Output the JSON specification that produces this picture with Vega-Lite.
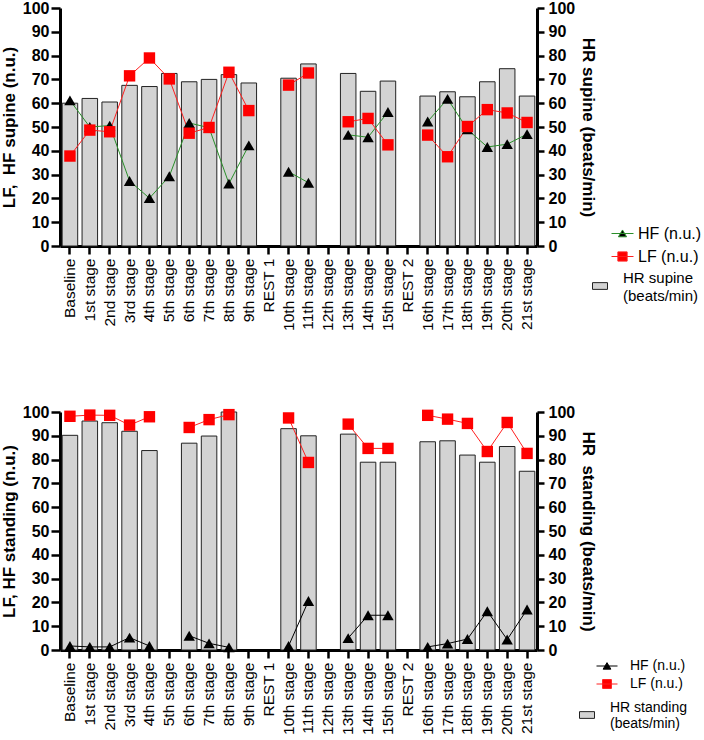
{
  "$schema": "https://vega.github.io/schema/vega-lite/v6.json",
  "padding": {"left": 0, "top": 0, "right": 0, "bottom": 0},
  "config": {
    "font": "Liberation Sans",
    "view": {"stroke": null},
    "axis": {
      "grid": false,
      "domainColor": "black",
      "domainWidth": 3,
      "tickColor": "black",
      "tickWidth": 2.5,
      "labelColor": "black",
      "titleColor": "black",
      "zindex": 1
    },
    "legend": {"labelColor": "black", "labelFont": "Liberation Sans"}
  },
  "datasets": {
    "hrv": [
      {"pos": "supine", "stage": "Baseline", "block": 1, "HR": 60, "HF": 61.2, "LF": 37.8},
      {"pos": "supine", "stage": "1st stage", "block": 1, "HR": 62, "HF": 50, "LF": 48.7},
      {"pos": "supine", "stage": "2nd stage", "block": 1, "HR": 60.5, "HF": 50.6, "LF": 48},
      {"pos": "supine", "stage": "3rd stage", "block": 1, "HR": 67.5, "HF": 27.3, "LF": 71.5},
      {"pos": "supine", "stage": "4th stage", "block": 1, "HR": 67, "HF": 20.1, "LF": 79},
      {"pos": "supine", "stage": "5th stage", "block": 1, "HR": 72.5, "HF": 29.3, "LF": 70.2},
      {"pos": "supine", "stage": "6th stage", "block": 1, "HR": 69, "HF": 51.7, "LF": 47.4},
      {"pos": "supine", "stage": "7th stage", "block": 1, "HR": 70, "HF": 49.7, "LF": 49.8},
      {"pos": "supine", "stage": "8th stage", "block": 1, "HR": 72, "HF": 26.2, "LF": 73},
      {"pos": "supine", "stage": "9th stage", "block": 1, "HR": 68.5, "HF": 42.3, "LF": 56.9},
      {"pos": "supine", "stage": "10th stage", "block": 2, "HR": 70.5, "HF": 31.2, "LF": 67.6},
      {"pos": "supine", "stage": "11th stage", "block": 2, "HR": 76.5, "HF": 26.6, "LF": 72.7},
      {"pos": "supine", "stage": "13th stage", "block": 3, "HR": 72.5, "HF": 46.7, "LF": 52.2},
      {"pos": "supine", "stage": "14th stage", "block": 3, "HR": 65, "HF": 45.7, "LF": 53.6},
      {"pos": "supine", "stage": "15th stage", "block": 3, "HR": 69.3, "HF": 56.3, "LF": 42.5},
      {"pos": "supine", "stage": "16th stage", "block": 4, "HR": 63, "HF": 52.3, "LF": 46.6},
      {"pos": "supine", "stage": "17th stage", "block": 4, "HR": 64.8, "HF": 61.8, "LF": 37.5},
      {"pos": "supine", "stage": "18th stage", "block": 4, "HR": 62.7, "HF": 49, "LF": 50.2},
      {"pos": "supine", "stage": "19th stage", "block": 4, "HR": 69, "HF": 41.6, "LF": 57.3},
      {"pos": "supine", "stage": "20th stage", "block": 4, "HR": 74.5, "HF": 42.8, "LF": 55.9},
      {"pos": "supine", "stage": "21st stage", "block": 4, "HR": 63, "HF": 47, "LF": 51.9},
      {"pos": "standing", "stage": "Baseline", "block": 1, "HR": 90.2, "HF": 1.7, "LF": 98.2},
      {"pos": "standing", "stage": "1st stage", "block": 1, "HR": 96.2, "HF": 1.3, "LF": 98.7},
      {"pos": "standing", "stage": "2nd stage", "block": 1, "HR": 95.5, "HF": 1.3, "LF": 98.6},
      {"pos": "standing", "stage": "3rd stage", "block": 1, "HR": 91.9, "HF": 5.2, "LF": 94.5},
      {"pos": "standing", "stage": "4th stage", "block": 1, "HR": 83.8, "HF": 1.7, "LF": 98},
      {"pos": "standing", "stage": "6th stage", "block": 2, "HR": 86.9, "HF": 6, "LF": 93.5},
      {"pos": "standing", "stage": "7th stage", "block": 2, "HR": 89.9, "HF": 2.8, "LF": 96.8},
      {"pos": "standing", "stage": "8th stage", "block": 2, "HR": 100, "HF": 1.1, "LF": 98.9},
      {"pos": "standing", "stage": "10th stage", "block": 3, "HR": 93, "HF": 1.7, "LF": 97.5},
      {"pos": "standing", "stage": "11th stage", "block": 3, "HR": 90, "HF": 20.6, "LF": 78.8},
      {"pos": "standing", "stage": "13th stage", "block": 4, "HR": 90.7, "HF": 5, "LF": 94.9},
      {"pos": "standing", "stage": "14th stage", "block": 4, "HR": 78.9, "HF": 14.6, "LF": 84.7},
      {"pos": "standing", "stage": "15th stage", "block": 4, "HR": 78.9, "HF": 14.6, "LF": 84.7},
      {"pos": "standing", "stage": "16th stage", "block": 5, "HR": 87.5, "HF": 1.3, "LF": 98.6},
      {"pos": "standing", "stage": "17th stage", "block": 5, "HR": 87.9, "HF": 2.7, "LF": 97},
      {"pos": "standing", "stage": "18th stage", "block": 5, "HR": 81.9, "HF": 4.6, "LF": 95.2},
      {"pos": "standing", "stage": "19th stage", "block": 5, "HR": 78.9, "HF": 16.3, "LF": 83.4},
      {"pos": "standing", "stage": "20th stage", "block": 5, "HR": 85.5, "HF": 4.4, "LF": 95.6},
      {"pos": "standing", "stage": "21st stage", "block": 5, "HR": 75.1, "HF": 17, "LF": 82.6}
    ]
  },
  "resolve": {
    "scale": {"x": "independent", "y": "independent", "color": "independent", "fill": "independent", "stroke": "independent", "shape": "independent"},
    "legend": {"color": "independent", "fill": "independent", "stroke": "independent", "shape": "independent"}
  },
  "spacing": 73,
  "vconcat": [
    {
      "width": 477,
      "height": 238,
      "data": {"name": "hrv"},
      "transform": [{"filter": "datum.pos === 'supine'"}],
      "encoding": {
        "x": {
          "field": "stage", "type": "nominal",
          "sort": ["Baseline","1st stage","2nd stage","3rd stage","4th stage","5th stage","6th stage","7th stage","8th stage","9th stage","REST 1","10th stage","11th stage","12th stage","13th stage","14th stage","15th stage","REST 2","16th stage","17th stage","18th stage","19th stage","20th stage","21st stage"],
          "scale": {"domain": ["Baseline","1st stage","2nd stage","3rd stage","4th stage","5th stage","6th stage","7th stage","8th stage","9th stage","REST 1","10th stage","11th stage","12th stage","13th stage","14th stage","15th stage","REST 2","16th stage","17th stage","18th stage","19th stage","20th stage","21st stage"], "paddingInner": 0.22, "paddingOuter": 0.11},
          "axis": {"title": null, "labelAngle": -90, "labelFontSize": 15.5, "labelPadding": 4, "tickSize": 8}
        }
      },
      "layer": [
        {
          "mark": {"type": "bar", "stroke": "#222222", "strokeWidth": 1},
          "encoding": {
            "y": {
              "field": "HR", "type": "quantitative",
              "scale": {"domain": [0, 100]},
              "axis": {"orient": "right", "title": "HR supine (beats/min)", "values": [0,10,20,30,40,50,60,70,80,90,100], "labelFontSize": 16, "labelFontWeight": "bold", "tickSize": 7, "labelPadding": 4, "titleFontSize": 17, "titleFontWeight": "bold", "titlePadding": 4}
            },
            "color": {
              "datum": "HR supine (beats/min)",
              "scale": {"range": ["#d3d3d3"]},
              "legend": {
                "orient": "none", "legendX": 532, "legendY": 270, "title": null,
                "symbolType": "M-1,-0.45H1V0.45H-1Z", "symbolSize": 225, "symbolStrokeColor": "#222222", "symbolStrokeWidth": 1,
                "labelFontSize": 15, "labelOffset": 15,
                "labelExpr": "['HR supine', '(beats/min)']",
                "encode": {"labels": {"update": {"lineHeight": {"value": 18}, "dy": {"value": -8}}}}
              }
            }
          }
        },
        {
          "transform": [{"fold": ["HF", "LF"], "as": ["measure", "value"]}],
          "mark": {"type": "line", "strokeWidth": 1},
          "encoding": {
            "y": {
              "field": "value", "type": "quantitative",
              "scale": {"domain": [0, 100]},
              "axis": {"orient": "left", "title": "LF,\u00a0 HF supine (n.u.)", "values": [0,10,20,30,40,50,60,70,80,90,100], "labelFontSize": 16, "labelFontWeight": "bold", "tickSize": 9, "labelPadding": 2, "titleFontSize": 17, "titleFontWeight": "bold", "titlePadding": 4}
            },
            "stroke": {"field": "measure", "scale": {"domain": ["LF", "HF"], "range": ["#ff2020", "#2a8f2a"]}, "legend": null},
            "detail": {"field": "block"}
          }
        },
        {
          "transform": [{"fold": ["HF", "LF"], "as": ["measure", "value"]}],
          "mark": {"type": "point", "filled": true, "size": 130, "opacity": 1},
          "encoding": {
            "y": {"field": "value", "type": "quantitative", "scale": {"domain": [0, 100]}, "axis": null},
            "fill": {"field": "measure", "scale": {"domain": ["LF", "HF"], "range": ["#ff0000", "black"]}, "legend": null},
            "shape": {"field": "measure", "scale": {"domain": ["LF", "HF"], "range": ["square", "triangle-up"]}, "legend": null}
          }
        },
        {
          "transform": [{"fold": ["HF", "LF"], "as": ["measure", "value"]}],
          "mark": {"type": "point", "filled": true, "opacity": 0, "strokeWidth": 1},
          "encoding": {
            "y": {"field": "value", "type": "quantitative", "scale": {"domain": [0, 100]}, "axis": null},
            "fill": {"field": "measure", "scale": {"domain": ["HF", "LF"], "range": ["black", "#ff0000"]}, "legend": null},
            "stroke": {"field": "measure", "scale": {"domain": ["HF", "LF"], "range": ["#2a8f2a", "#ff2020"]}, "legend": null},
            "shape": {
              "field": "measure",
              "scale": {"domain": ["HF", "LF"], "range": ["M-1,0H1M0,-0.32L0.37,0.3L-0.37,0.3Z", "M-1,0H1M-0.42,-0.42H0.42V0.42H-0.42Z"]},
              "legend": {
                "orient": "none", "legendX": 551, "legendY": 214, "title": null,
                "symbolSize": 484, "symbolOpacity": 1, "symbolStrokeWidth": 1, "rowPadding": 3, "labelFontSize": 16, "labelOffset": 4,
                "labelExpr": "datum.label + ' (n.u.)'"
              }
            }
          }
        }
      ],
      "resolve": {
        "scale": {"y": "independent", "fill": "independent", "stroke": "independent", "shape": "independent"},
        "legend": {"fill": "independent", "stroke": "independent", "shape": "independent"}
      }
    },
    {
      "width": 477,
      "height": 238,
      "data": {"name": "hrv"},
      "transform": [{"filter": "datum.pos === 'standing'"}],
      "encoding": {
        "x": {
          "field": "stage", "type": "nominal",
          "sort": ["Baseline","1st stage","2nd stage","3rd stage","4th stage","5th stage","6th stage","7th stage","8th stage","9th stage","REST 1","10th stage","11th stage","12th stage","13th stage","14th stage","15th stage","REST 2","16th stage","17th stage","18th stage","19th stage","20th stage","21st stage"],
          "scale": {"domain": ["Baseline","1st stage","2nd stage","3rd stage","4th stage","5th stage","6th stage","7th stage","8th stage","9th stage","REST 1","10th stage","11th stage","12th stage","13th stage","14th stage","15th stage","REST 2","16th stage","17th stage","18th stage","19th stage","20th stage","21st stage"], "paddingInner": 0.22, "paddingOuter": 0.11},
          "axis": {"title": null, "labelAngle": -90, "labelFontSize": 15.5, "labelPadding": 4, "tickSize": 8}
        }
      },
      "layer": [
        {
          "mark": {"type": "bar", "stroke": "#222222", "strokeWidth": 1},
          "encoding": {
            "y": {
              "field": "HR", "type": "quantitative",
              "scale": {"domain": [0, 100]},
              "axis": {"orient": "right", "title": "HR\u00a0 standing (beats/min)", "values": [0,10,20,30,40,50,60,70,80,90,100], "labelFontSize": 16, "labelFontWeight": "bold", "tickSize": 7, "labelPadding": 4, "titleFontSize": 17, "titleFontWeight": "bold", "titlePadding": 4}
            },
            "color": {
              "datum": "HR standing (beats/min)",
              "scale": {"range": ["#d3d3d3"]},
              "legend": {
                "orient": "none", "legendX": 519, "legendY": 295, "title": null,
                "symbolType": "M-1,-0.45H1V0.45H-1Z", "symbolSize": 225, "symbolStrokeColor": "#222222", "symbolStrokeWidth": 1,
                "labelFontSize": 14, "labelOffset": 15,
                "labelExpr": "['HR standing', '(beats/min)']",
                "encode": {"labels": {"update": {"lineHeight": {"value": 16}, "dy": {"value": -7}}}}
              }
            }
          }
        },
        {
          "transform": [{"fold": ["HF", "LF"], "as": ["measure", "value"]}],
          "mark": {"type": "line", "strokeWidth": 1},
          "encoding": {
            "y": {
              "field": "value", "type": "quantitative",
              "scale": {"domain": [0, 100]},
              "axis": {"orient": "left", "title": "LF, HF standing (n.u.)", "values": [0,10,20,30,40,50,60,70,80,90,100], "labelFontSize": 16, "labelFontWeight": "bold", "tickSize": 9, "labelPadding": 2, "titleFontSize": 17, "titleFontWeight": "bold", "titlePadding": 4}
            },
            "stroke": {"field": "measure", "scale": {"domain": ["LF", "HF"], "range": ["#ff2020", "black"]}, "legend": null},
            "detail": {"field": "block"}
          }
        },
        {
          "transform": [{"fold": ["HF", "LF"], "as": ["measure", "value"]}],
          "mark": {"type": "point", "filled": true, "size": 130, "opacity": 1},
          "encoding": {
            "y": {"field": "value", "type": "quantitative", "scale": {"domain": [0, 100]}, "axis": null},
            "fill": {"field": "measure", "scale": {"domain": ["LF", "HF"], "range": ["#ff0000", "black"]}, "legend": null},
            "shape": {"field": "measure", "scale": {"domain": ["LF", "HF"], "range": ["square", "triangle-up"]}, "legend": null}
          }
        },
        {
          "transform": [{"fold": ["HF", "LF"], "as": ["measure", "value"]}],
          "mark": {"type": "point", "filled": true, "opacity": 0, "strokeWidth": 1},
          "encoding": {
            "y": {"field": "value", "type": "quantitative", "scale": {"domain": [0, 100]}, "axis": null},
            "fill": {"field": "measure", "scale": {"domain": ["HF", "LF"], "range": ["black", "#ff0000"]}, "legend": null},
            "stroke": {"field": "measure", "scale": {"domain": ["HF", "LF"], "range": ["black", "#ff2020"]}, "legend": null},
            "shape": {
              "field": "measure",
              "scale": {"domain": ["HF", "LF"], "range": ["M-1,0H1M0,-0.32L0.37,0.3L-0.37,0.3Z", "M-1,0H1M-0.42,-0.42H0.42V0.42H-0.42Z"]},
              "legend": {
                "orient": "none", "legendX": 536, "legendY": 243, "title": null,
                "symbolSize": 441, "symbolOpacity": 1, "symbolStrokeWidth": 1, "rowPadding": 0, "labelFontSize": 14, "labelOffset": 12,
                "labelExpr": "datum.label + ' (n.u.)'"
              }
            }
          }
        }
      ],
      "resolve": {
        "scale": {"y": "independent", "fill": "independent", "stroke": "independent", "shape": "independent"},
        "legend": {"fill": "independent", "stroke": "independent", "shape": "independent"}
      }
    }
  ]
}
